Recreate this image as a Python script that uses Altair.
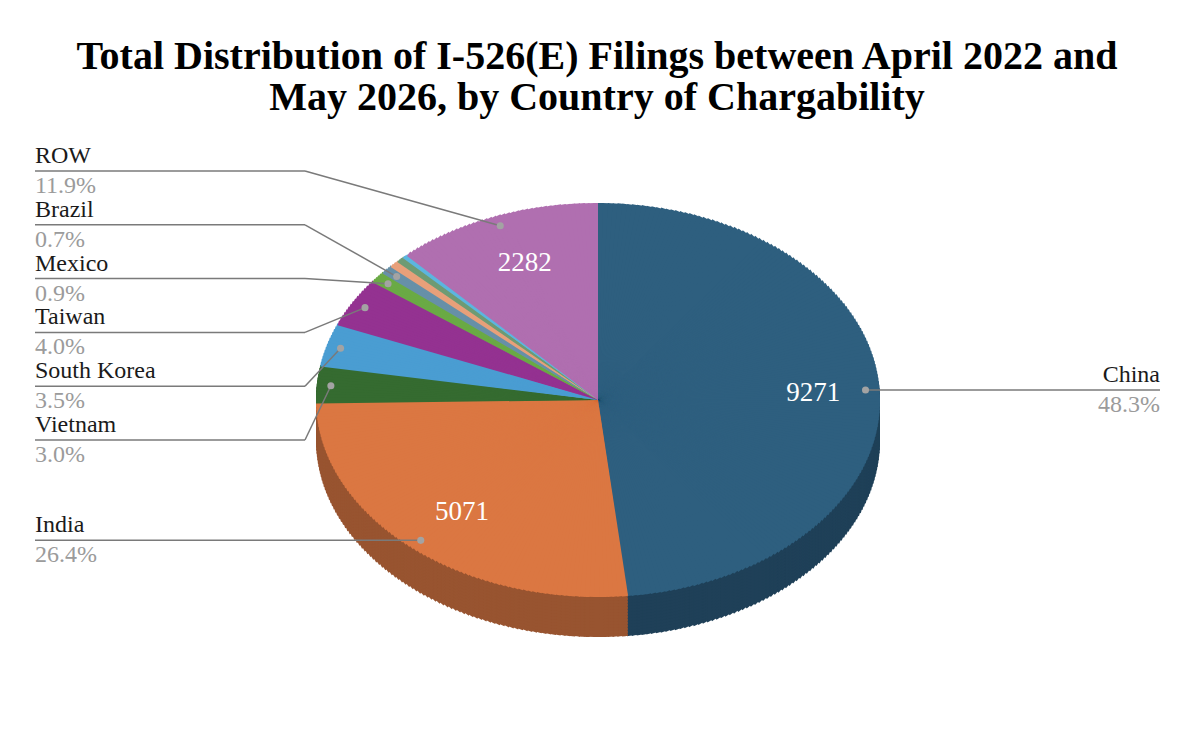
import altair as alt
import pandas as pd

# slices, clockwise from 12 o'clock
countries = ["China", "India", "Vietnam", "South Korea", "Taiwan", "Mexico",
             "Brazil", "Unlabeled A", "Unlabeled B", "Unlabeled C", "ROW"]
filings = [9271, 5071, 576, 672, 768, 173, 134, 106, 86, 57, 2282]

top_colors = ["#2e5f7f", "#db7742", "#356b30", "#4a9dd2", "#943291", "#6aaa45",
              "#6790a8", "#e8a07a", "#6e9b74", "#5cb6e0", "#b06fb0"]
side_colors = ["#1f4058", "#985430", "#244a21", "#336d93", "#672365", "#4a7730",
               "#476475", "#a27055", "#4d6c51", "#407f9c", "#7b4d7b"]

unlabeled = ["Unlabeled A", "Unlabeled B", "Unlabeled C"]
# order of the stacked labels on the left, top to bottom
left_stack = ["ROW", "Brazil", "Mexico", "Taiwan", "South Korea", "Vietnam"]

title_lines = ["Total Distribution of I-526(E) Filings between April 2022 and",
               "May 2026, by Country of Chargability"]

SERIF = "Liberation Serif"
W, H, TOP = 1178, 608, 112

# pie geometry (view pixels): tilted pie = ellipse with a visible rim
CX, CY = 590, 280
A, B = 282, 197
DEPTH = 40
DOT_F = 0.95
VAL_F = 0.75
OVERLAP = 0.006  # radians, hides seams between thin sub-wedges

# label layout
LEFT_X, ELBOW_L = 27, 297
RIGHT_X, ELBOW_R = 1152, 882
ROW_TOP, ROW_GAP = 51, 53.8

df = pd.DataFrame({"country": countries, "value": filings,
                   "order": list(range(len(countries)))})
df["slot"] = [left_stack.index(c) if c in left_stack else -1 for c in countries]
df["labeled"] = [c not in unlabeled for c in countries]


def base():
    return alt.Chart(df).transform_joinaggregate(
        total="sum(value)"
    ).transform_window(
        cum="sum(value)", sort=[alt.SortField("order")], frame=[None, 0]
    ).transform_calculate(start="datum.cum - datum.value")


def vis_angle(p):
    t = f"atan2({A}*sin({p}), {B}*cos({p}))"
    return f"({t}) + (({t}) < ({p}) - PI ? 2*PI : 0)"


def wedges():
    return base().transform_calculate(
        n="ceil(datum.value / datum.total * 360) + 1"
    ).transform_calculate(
        k="sequence(0, datum.n)"
    ).transform_flatten(["k"]).transform_calculate(
        p0="2*PI*(datum.start + datum.value*datum.k/datum.n)/datum.total"
    ).transform_calculate(
        p1="2*PI*(datum.start + datum.value*(datum.k+1)/datum.n)/datum.total"
    ).transform_calculate(
        pm="(datum.p0 + datum.p1)/2"
    ).transform_calculate(
        t0=vis_angle("datum.p0")
    ).transform_calculate(
        t1=f"min(2*PI, {vis_angle('datum.p1')} + {OVERLAP})"
    ).transform_calculate(
        r=f"sqrt(pow({A}*sin(datum.pm), 2) + pow({B}*cos(datum.pm), 2))"
    )


def slices():
    # whole slices with the same tilted angles, drawn as a plain disc
    return base().transform_calculate(
        p0="2*PI*datum.start/datum.total",
        p1="2*PI*datum.cum/datum.total",
    ).transform_calculate(
        t0=vis_angle("datum.p0")
    ).transform_calculate(
        t1=vis_angle("datum.p1")
    )


def pie_layer(chart, colors, dy, radius=None):
    enc = dict(
        x=alt.value(CX),
        y=alt.value(CY + dy),
        theta=alt.Theta("t0:Q", scale=None, stack=None),
        theta2=alt.Theta2("t1:Q"),
        color=alt.Color("country:N",
                        scale=alt.Scale(domain=countries, range=colors),
                        legend=None),
    )
    if radius is None:
        enc["radius"] = alt.Radius("r:Q", scale=None)
        return chart.mark_arc().encode(**enc)
    return chart.mark_arc(radius=radius).encode(**enc)


# rim: lower half of the pie repeated downwards in darker shades
rim_layers = []
for d in range(DEPTH, 0, -3):
    rim = wedges().transform_filter(
        "datum.pm > PI/2 - 0.1 && datum.pm < 3*PI/2 + 0.1"
    )
    rim_layers.append(pie_layer(rim, side_colors, d))
rim_chart = alt.layer(*rim_layers)
top_chart = alt.layer(
    pie_layer(slices(), top_colors, 0, radius=B - 3),
    pie_layer(wedges(), top_colors, 0),
)

# leader lines, dots and labels
lab = base().transform_filter("datum.labeled").transform_calculate(
    pm="2*PI*(datum.start + datum.value/2)/datum.total"
).transform_calculate(
    dx=f"{CX} + {DOT_F}*{A}*sin(datum.pm)",
    dy=f"{CY} - {DOT_F}*{B}*cos(datum.pm)",
).transform_calculate(
    side=f"datum.dx < {CX} ? 'left' : 'right'"
).transform_calculate(
    ly=f"datum.slot >= 0 ? {ROW_TOP} + datum.slot*{ROW_GAP} : datum.dy",
    lx0=f"datum.side == 'left' ? {LEFT_X} : {RIGHT_X}",
    ex=f"datum.side == 'left' ? {ELBOW_L} : {ELBOW_R}",
    pct="format(100*datum.value/datum.total, '.1f') + '%'",
)

px = lambda f: alt.X(f, scale=None, axis=None)
py = lambda f: alt.Y(f, scale=None, axis=None)

annot = [
    lab.mark_rule(color="#7a7a7a", strokeWidth=1.5).encode(
        x=px("lx0:Q"), x2=alt.X2("ex:Q"), y=py("ly:Q")),
    lab.mark_rule(color="#7a7a7a", strokeWidth=1.5).encode(
        x=px("ex:Q"), x2=alt.X2("dx:Q"), y=py("ly:Q"), y2=alt.Y2("dy:Q")),
    lab.mark_circle(size=50, color="#a3a3a3", opacity=1).encode(
        x=px("dx:Q"), y=py("dy:Q")),
]

for side in ["left", "right"]:
    part = lab.transform_filter(f"datum.side == '{side}'")
    annot.append(part.mark_text(font=SERIF, fontSize=24, color="#1a1a1a",
                                align=side, baseline="alphabetic", dy=-8).encode(
        x=px("lx0:Q"), y=py("ly:Q"), text="country:N"))
    annot.append(part.mark_text(font=SERIF, fontSize=24, color="#9b9b9b",
                                align=side, baseline="alphabetic", dy=22).encode(
        x=px("lx0:Q"), y=py("ly:Q"), text="pct:N"))

# counts inside the big slices
vals = base().transform_filter("datum.value / datum.total >= 0.1").transform_calculate(
    pm="2*PI*(datum.start + datum.value/2)/datum.total"
).transform_calculate(
    vx=f"{CX} + {VAL_F}*{A}*sin(datum.pm)",
    vy=f"{CY} - {VAL_F}*{B}*cos(datum.pm)",
)
annot.append(vals.mark_text(font=SERIF, fontSize=27, color="white",
                            baseline="middle", dx=4, dy=1).encode(
    x=px("vx:Q"), y=py("vy:Q"), text="value:Q"))

chart = alt.layer(rim_chart, top_chart, *annot).resolve_scale(
    color="independent"
).properties(
    width=W,
    height=H,
    autosize="none",
    padding={"left": 0, "right": 0, "top": TOP, "bottom": 0},
    title=alt.TitleParams(text=title_lines, font=SERIF, fontSize=40,
                          fontWeight="bold", color="black", anchor="middle",
                          lineHeight=41, offset=2),
).configure_view(stroke=None)

chart.save("out.html", embed_options={"renderer": "svg", "actions": False})
